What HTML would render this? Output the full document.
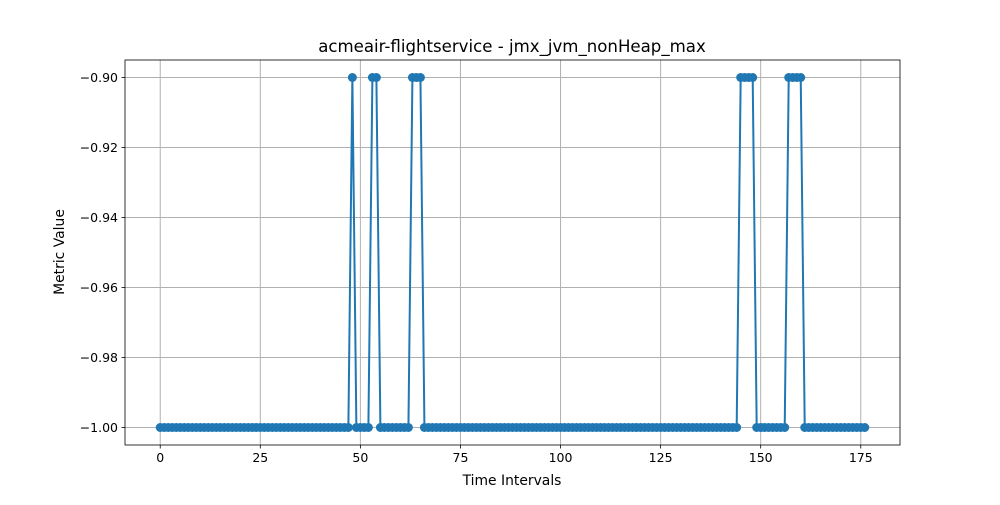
<!DOCTYPE html>
<html><head><meta charset="utf-8"><style>
body{margin:0;background:#fff;font-family:"Liberation Sans","DejaVu Sans",sans-serif}
svg text{font-family:"DejaVu Sans","Liberation Sans",sans-serif}
</style></head><body>
<svg id="chart" width="1000" height="500" viewBox="0 0 1000 500" xmlns="http://www.w3.org/2000/svg">
<rect width="1000" height="500" fill="#fff"/>
<g id="grid"></g><g id="axes"></g><g id="series"></g>
<text x="512" y="52" text-anchor="middle" font-size="16.6">acmeair-flightservice - jmx_jvm_nonHeap_max</text>
<text x="512" y="485" text-anchor="middle" font-size="13.9">Time Intervals</text>
<text transform="translate(64,252) rotate(-90)" text-anchor="middle" font-size="13.9">Metric Value</text>
</svg>
<script>
const highIdx=[48,53,54,63,64,65,145,146,147,148,157,158,159,160];
const pointCount=177;
const lowValue=-1.0, highValue=-0.9;
const xTicks=[0,25,50,75,100,125,150,175];
const yTicks=[-1.00,-0.98,-0.96,-0.94,-0.92,-0.90];
const yTickLabels=["\u22121.00","\u22120.98","\u22120.96","\u22120.94","\u22120.92","\u22120.90"];
const values=[];for(let i=0;i<pointCount;i++)values.push(highIdx.includes(i)?highValue:lowValue);
const L=125,R=900,T=60,B=445;
const xmin=-8.8,xmax=184.8,ymin=-1.005,ymax=-0.895;
const xs=v=>L+(v-xmin)/(xmax-xmin)*(R-L);
const ys=v=>B-(v-ymin)/(ymax-ymin)*(B-T);
const NS="http://www.w3.org/2000/svg";
function mk(tag,attrs,parent){const e=document.createElementNS(NS,tag);for(const k in attrs)e.setAttribute(k,attrs[k]);parent.appendChild(e);return e;}
const grid=document.getElementById('grid'),axes=document.getElementById('axes'),ser=document.getElementById('series');
xTicks.forEach(t=>{const x=xs(t);
const g=mk('line',{x1:x,x2:x,y1:T,y2:B,stroke:'#b0b0b0','stroke-width':1},grid);

mk('line',{x1:x,x2:x,y1:B,y2:B+3.5,stroke:'#000','stroke-width':0.8},axes);
const tx=mk('text',{x:x,y:B+17,'text-anchor':'middle','font-size':12.5},axes);tx.textContent=t;
});
yTicks.forEach((t,i)=>{const y=ys(t);
const g=mk('line',{x1:L,x2:R,y1:y,y2:y,stroke:'#b0b0b0','stroke-width':1},grid);

mk('line',{x1:L-3.5,x2:L,y1:y,y2:y,stroke:'#000','stroke-width':0.8},axes);
const tx=mk('text',{x:L-7,y:y+4.5,'text-anchor':'end','font-size':12.5},axes);tx.textContent=yTickLabels[i];
});
const fr=mk('rect',{x:L,y:T,width:R-L,height:B-T,fill:'none',stroke:'#000','stroke-width':0.8},axes);

const pl=mk('polyline',{points:values.map((v,i)=>xs(i)+','+ys(v)).join(' '),fill:'none',stroke:'#1f77b4','stroke-width':2},ser);

values.forEach((v,i)=>{const c=mk('circle',{cx:xs(i),cy:ys(v),r:4.5,fill:'#1f77b4'},ser);
});
</script>
</body></html>
